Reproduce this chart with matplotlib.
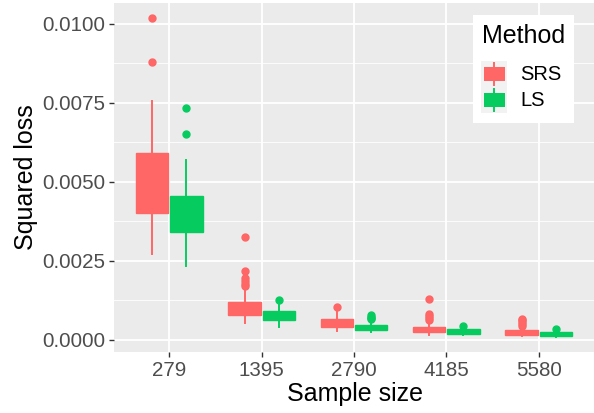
import matplotlib
matplotlib.use("Agg")
import matplotlib.pyplot as plt
from matplotlib.patches import Rectangle
from matplotlib.lines import Line2D

plt.rcParams['font.family'] = ['Liberation Sans', 'DejaVu Sans']

# sample sizes (x categories)
sizes = ['279', '1395', '2790', '4185', '5580']

# SRS box statistics
srs_q1 = [0.00401, 0.00078, 0.00040, 0.00025, 0.00017]
srs_med = [0.00480, 0.00095, 0.00050, 0.00032, 0.00024]
srs_q3 = [0.00590, 0.00119, 0.00066, 0.00041, 0.00032]
srs_lo = [0.00271, 0.00053, 0.00029, 0.00017, 0.00012]
srs_hi = [0.00757, 0.00164, 0.00093, 0.00053, 0.00040]
srs_out = [[0.01019, 0.00879],
           [0.00325, 0.00217, 0.00195, 0.00187, 0.00177, 0.00170],
           [0.00104],
           [0.00130, 0.00081, 0.00075, 0.00068, 0.00062],
           [0.00067, 0.00062, 0.00056, 0.00050, 0.00045]]

# LS box statistics
ls_q1 = [0.00342, 0.00063, 0.00033, 0.00020, 0.00014]
ls_med = [0.00400, 0.00078, 0.00040, 0.00027, 0.00020]
ls_q3 = [0.00455, 0.00091, 0.00047, 0.00034, 0.00026]
ls_lo = [0.00235, 0.00040, 0.00024, 0.00015, 0.00010]
ls_hi = [0.00569, 0.00111, 0.00058, 0.00040, 0.00030]
ls_out = [[0.00733, 0.00652],
          [0.00126],
          [0.00079, 0.00074, 0.00069, 0.00065],
          [0.00045],
          [0.00035]]

methods = ['SRS', 'LS']
colors = {'SRS': '#FF6666', 'LS': '#06CC60'}

W, H = 594, 413
fig = plt.figure(figsize=(W / 100, H / 100), dpi=100)
# panel placed in pixel terms
pl, pr, pt, pb = 114, 594, 3, 352
ax = fig.add_axes([pl / W, 1 - pb / H, (pr - pl) / W, (pb - pt) / H])
ax.set_facecolor('#EBEBEB')


def make_stats(q1, med, q3, lo, hi, out):
    return [dict(q1=a, med=b, q3=c, whislo=d, whishi=e, fliers=f)
            for a, b, c, d, e, f in zip(q1, med, q3, lo, hi, out)]


groups = {
    'SRS': make_stats(srs_q1, srs_med, srs_q3, srs_lo, srs_hi, srs_out),
    'LS': make_stats(ls_q1, ls_med, ls_q3, ls_lo, ls_hi, ls_out),
}
offsets = {'SRS': -0.185, 'LS': 0.185}

for m in methods:
    c = colors[m]
    pos = [i + offsets[m] for i in range(len(sizes))]
    ax.bxp(groups[m], positions=pos, widths=0.35, patch_artist=True,
           showcaps=False, manage_ticks=False,
           boxprops=dict(facecolor=c, edgecolor=c, linewidth=1.0),
           medianprops=dict(color=c, linewidth=1.0),
           whiskerprops=dict(color=c, linewidth=1.4),
           flierprops=dict(marker='o', markerfacecolor=c, markeredgecolor=c,
                           markersize=5))

ax.set_xlim(-0.6, 4.6)
ax.set_ylim(-0.00038, 0.01066)
ax.set_xticks(range(len(sizes)))
ax.set_xticklabels(sizes)
yt = [0.0, 0.0025, 0.005, 0.0075, 0.01]
ax.set_yticks(yt)
ax.set_yticklabels(['%.4f' % v for v in yt])
ax.set_yticks([0.00125, 0.00375, 0.00625, 0.00875], minor=True)

ax.grid(True, which='major', color='white', linewidth=1.3)
ax.grid(True, which='minor', axis='y', color='white', linewidth=0.6)
ax.set_axisbelow(True)
for s in ax.spines.values():
    s.set_visible(False)
ax.tick_params(axis='both', which='major', length=3.5, width=1.0,
               color='#333333', labelcolor='#4D4D4D', labelsize=14.8, pad=3)
ax.tick_params(axis='y', which='minor', length=0)

ax.set_xlabel('Sample size', fontsize=18, color='black', va='center')
ax.set_ylabel('Squared loss', fontsize=18, color='black', va='center')
ax.xaxis.set_label_coords((355 - pl) / (pr - pl), -(394 - pb) / (pb - pt))
ax.yaxis.set_label_coords(-(114 - 26) / (pr - pl), 0.5)


# legend drawn in figure pixel coordinates
def fx(x):
    return x / W


def fy(y):
    return 1 - y / H


fig.add_artist(Rectangle((fx(473), fy(123)), fx(574) - fx(473), fy(15) - fy(123),
                         transform=fig.transFigure, facecolor='white',
                         edgecolor='none', zorder=5))
fig.text(fx(482), fy(36), 'Method', fontsize=18, va='center', ha='left', zorder=6)
for k, m in enumerate(methods):
    top = 60.7 + k * 26.3
    fig.add_artist(Rectangle((fx(481), fy(top + 26.3)), fx(507) - fx(481),
                             fy(top) - fy(top + 26.3), transform=fig.transFigure,
                             facecolor='#F2F2F2', edgecolor='none', zorder=6))
    fig.add_artist(Line2D([fx(494), fx(494)], [fy(top + 24), fy(top + 2.3)],
                          transform=fig.transFigure, color=colors[m],
                          linewidth=1.4, zorder=7))
    fig.add_artist(Rectangle((fx(483.5), fy(top + 20.3)), fx(504.5) - fx(483.5),
                             fy(top + 6) - fy(top + 20.3), transform=fig.transFigure,
                             facecolor=colors[m], edgecolor='none', zorder=8))
    fig.text(fx(520), fy(top + 13.5), m, fontsize=14.5, va='center', ha='left',
             zorder=6)

fig.savefig('out.png', dpi=100)
